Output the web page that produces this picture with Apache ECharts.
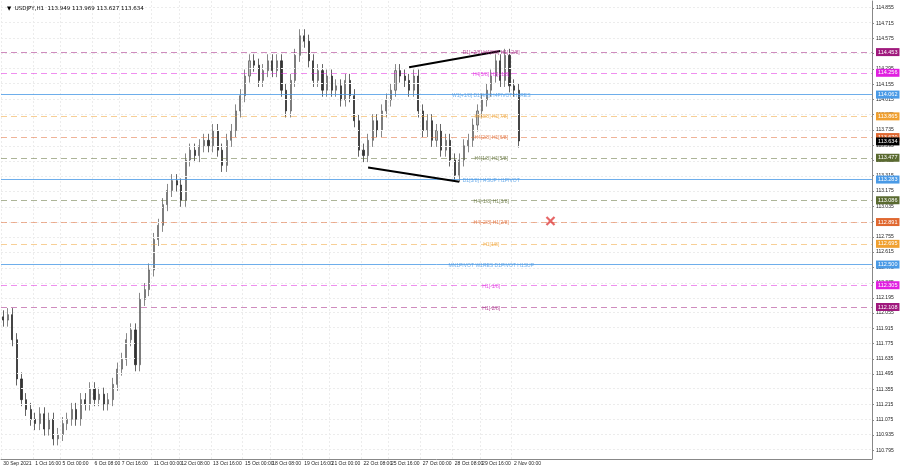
<!DOCTYPE html><html><head><meta charset="utf-8"><script src="https://cdn.jsdelivr.net/npm/echarts@6/dist/echarts.min.js"></script>
<style>html,body{margin:0;background:#fff}#c{width:900px;height:468px}</style></head><body><div id="c"></div><script>
const closes=[111.99,112.04,111.81,111.45,111.26,111.17,111.08,111.04,111.13,110.99,111.08,110.90,110.94,111.04,111.08,111.17,111.08,111.26,111.22,111.36,111.26,111.31,111.22,111.26,111.40,111.54,111.63,111.81,111.90,111.58,112.18,112.27,112.45,112.73,112.86,113.05,113.18,113.27,113.23,113.09,113.46,113.55,113.50,113.59,113.64,113.59,113.73,113.55,113.41,113.64,113.73,113.91,114.05,114.23,114.37,114.33,114.19,114.28,114.37,114.28,114.37,114.10,113.91,114.19,114.42,114.60,114.55,114.37,114.19,114.28,114.10,114.23,114.10,114.14,114.01,114.19,114.05,113.82,113.55,113.50,113.64,113.82,113.73,113.91,114.01,114.10,114.28,114.23,114.19,114.10,114.23,113.91,113.73,113.82,113.64,113.73,113.55,113.64,113.46,113.32,113.46,113.59,113.64,113.78,113.91,114.01,114.10,114.23,114.37,114.19,114.42,114.14,114.10,113.634];
const firstOpen=112.02;
const wick=0.06;
const dateLabels=["30 Sep 2021","1 Oct 16:00","5 Oct 00:00","6 Oct 08:00","7 Oct 16:00","11 Oct 00:00","12 Oct 08:00","13 Oct 16:00","15 Oct 00:00","18 Oct 08:00","19 Oct 16:00","21 Oct 00:00","22 Oct 08:00","25 Oct 16:00","27 Oct 00:00","28 Oct 08:00","29 Oct 16:00","2 Nov 00:00"];
const levelPrices=[114.453,114.256,114.062,113.865,113.670,113.477,113.283,113.086,112.891,112.695,112.500,112.305,112.108];
const levelTexts=["D1[+2/8] H4[8/8] H1[+2/8]","H4[5/8] H1[+1/8]","W1[+1/8] D1[4/8] H4PIVOT H1RES","H4[3/8] H1[7/8]","H4[2/8] H1[6/8]","H4[1/8] H1[5/8]","D1[3/8] H4SUP H1PIVOT","H4[-1/8] H1[3/8]","H4[-2/8] H1[2/8]","H1[1/8]","MN1PIVOT W1RES D1PIVOT H1SUP","H1[-1/8]","H1[-2/8]"];
const levelColors=["#a0197d","#e020e0","#4a9ae6","#f0a030","#e06830","#5a6a30","#4a9ae6","#5a6a30","#e06830","#f0a030","#4a9ae6","#e020e0","#a0197d"];
const levelSolid=[false,false,true,false,false,false,true,false,false,false,true,false,false];
const yTicks=[114.855,114.715,114.575,114.435,114.295,114.155,114.015,113.875,113.735,113.595,113.455,113.315,113.175,113.035,112.895,112.755,112.615,112.475,112.335,112.195,112.055,111.915,111.775,111.635,111.495,111.355,111.215,111.075,110.935,110.795];
const upperTrend=[[88.6,114.31],[108.5,114.46]];
const lowerTrend=[[79.6,113.39],[100.3,113.26]];
const crossMark=[119.8,112.90];
const TOTAL=191;
const cats=[];for(let i=0;i<TOTAL;i++)cats.push(String(i));
const ohlc=closes.map((c,i)=>{const o=i?closes[i-1]:firstOpen;return [o,c,Math.min(o,c)-wick,Math.max(o,c)+wick];});
const labelIdx={};dateLabels.forEach((t,k)=>{labelIdx[Math.round(k*6.57)]=t;});
const ivl=(i)=>labelIdx[i]!==undefined;
function fade(hex,a){const n=parseInt(hex.slice(1),16);return `rgba(${n>>16},${(n>>8)&255},${n&255},${a})`;}
const lvlLines=levelPrices.map((p,i)=>({yAxis:p,lineStyle:{color:fade(levelColors[i],levelSolid[i]?0.8:0.5),type:levelSolid[i]?'solid':[6,4],width:1},
 label:{show:true,position:'end',formatter:p.toFixed(3),color:'#fff',backgroundColor:levelColors[i],fontSize:5.5,padding:[1,2],distance:4}}));
lvlLines.push({yAxis:113.634,lineStyle:{color:'rgba(0,0,0,0)'},label:{show:true,position:'end',formatter:'113.634',color:'#fff',backgroundColor:'#000',fontSize:5.5,padding:[1,2],distance:4}});
const grid=yTicks.map(v=>({yAxis:v,lineStyle:{color:'#ececec',type:[2,2],width:1},label:{show:false}}));
const c=echarts.init(document.getElementById('c'));
c.setOption({animation:false,
 title:{text:'▼  USDJPY,H1  113.949 113.969 113.627 113.634',left:2,top:1,textStyle:{fontSize:5.5,fontWeight:'normal',color:'#000',fontFamily:'DejaVu Sans'}},
 grid:{left:1,right:28,top:1,bottom:9},
 xAxis:{type:'category',data:cats,boundaryGap:true,axisLine:{lineStyle:{color:'#888'}},axisTick:{show:false},
  axisLabel:{interval:(i)=>ivl(i),formatter:(v)=>labelIdx[+v]||'',fontSize:5,color:'#222',margin:2,align:'left',hideOverlap:false},
  splitLine:{show:true,interval:(i)=>ivl(i),lineStyle:{color:'#ececec',type:[2,2]}}},
 yAxis:{type:'value',position:'right',min:110.715,max:114.919,scale:true,axisLine:{show:true,lineStyle:{color:'#888'}},
  axisTick:{show:true,customValues:yTicks,length:2},splitLine:{show:false},
  axisLabel:{customValues:yTicks,formatter:v=>v.toFixed(3),fontSize:5,color:'#222',margin:4}},
 series:[
  {type:'candlestick',data:ohlc,barWidth:1.6,itemStyle:{color:'#bbb',color0:'#333',borderColor:'#555',borderColor0:'#222',borderWidth:0.7},
   markLine:{silent:true,symbol:'none',data:grid.concat(lvlLines)}},
  {type:'line',data:upperTrend,symbol:'none',lineStyle:{color:'#000',width:2},z:5},
  {type:'line',data:lowerTrend,symbol:'none',lineStyle:{color:'#000',width:2},z:5},
  {type:'scatter',data:levelPrices.map((p,i)=>({value:[107,p],label:{color:levelColors[i]}})),symbolSize:0,
   label:{show:true,position:'inside',offset:[0,1],fontSize:5,formatter:(d)=>levelTexts[d.dataIndex]},z:6},
  {type:'scatter',data:[crossMark],symbol:'path://M0,0L10,10M10,0L0,10',symbolSize:8,itemStyle:{color:'none',borderColor:'#e04040',borderWidth:2.2},z:7}
 ]});
</script></body></html>
